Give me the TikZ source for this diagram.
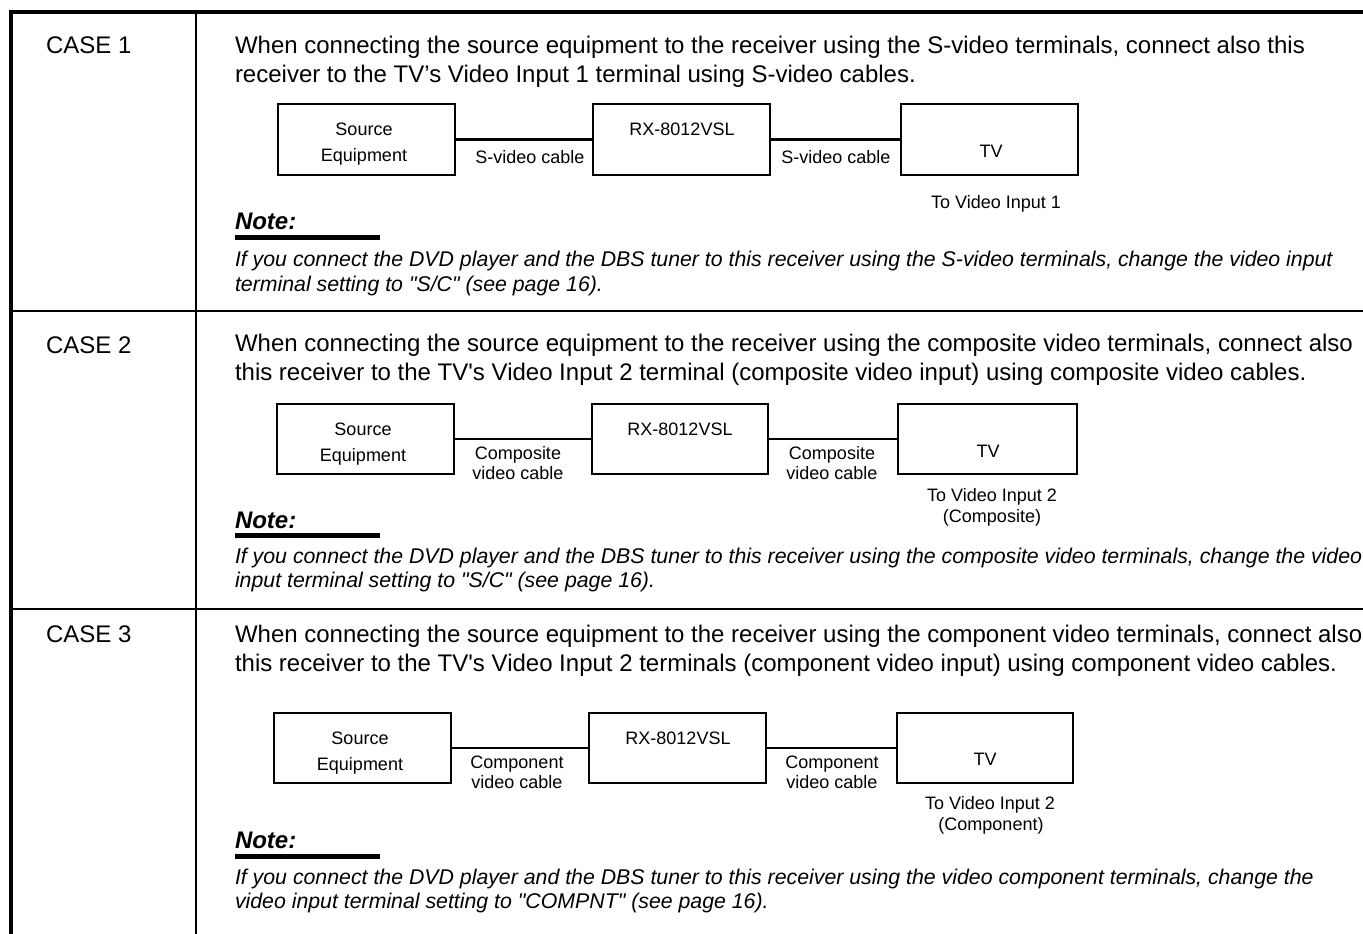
\documentclass[tikz,border=0pt]{standalone}
\usepackage{fontspec}
\newfontfamily\arialf{Liberation Sans}
\begin{document}
\begin{tikzpicture}[x=1pt,y=-1pt,
  every node/.style={inner sep=0pt, outer sep=0pt, font=\arialf},
  frame/.style={line width=3.2pt},
  grid/.style={line width=2pt},
  box/.style={draw, line width=2.6pt, minimum width=177pt, minimum height=71pt},
  cable/.style={line width=2.6pt},
  body/.style={anchor=base west, font=\arialf\fontsize{24}{29}\selectfont},
  casetx/.style={anchor=base west, font=\arialf\fontsize{24}{29}\selectfont},
  lbl/.style={anchor=base, font=\arialf\fontsize{18}{22}\selectfont},
  notehd/.style={anchor=base west, font=\arialf\bfseries\itshape\fontsize{24}{29}\selectfont},
  notetx/.style={anchor=base west, font=\arialf\itshape\fontsize{21.3}{25}\selectfont},
  bar/.style={line width=5pt}
]
\useasboundingbox (0,0) rectangle (1363,934);
% table frame
\draw[frame] (11,934) -- (11,12) -- (1363,12);
\draw[grid] (195.5,12) -- (195.5,934);
\draw[grid] (11,311) -- (1363,311);
\draw[grid] (11,609) -- (1363,609);

% ---------- CASE 1 ----------
\node[casetx] (c1) at (46,54) {CASE 1};
\node[body] (b1a) at (235,54) {When connecting the source equipment to the receiver using the S-video terminals, connect also this};
\node[body] (b1b) at (235,83) {receiver to the TV’s Video Input 1 terminal using S-video cables.};
\node[box] (s1) at (366.5,139.5) {};
\node[box] (r1) at (681.5,139.5) {};
\node[box] (t1) at (989.5,139.5) {};
\draw[cable] (s1) -- (r1);
\draw[cable] (r1) -- (t1);
\node[lbl] (s1a) at (364,135) {Source};
\node[lbl] (s1b) at (364,161) {Equipment};
\node[lbl] (r1l) at (682,135) {RX-8012VSL};
\node[lbl] (t1l) at (991,157) {TV};
\node[lbl] (k1a) at (530,163) {S-video cable};
\node[lbl] (k1b) at (836,163) {S-video cable};
\node[lbl] (v1) at (996,208) {To Video Input 1};
\node[notehd] (n1) at (235,229) {Note:};
\coordinate (u1a) at (235,237.5);
\coordinate (u1b) at (380,237.5);
\draw[bar] (u1a) -- (u1b);
\node[notetx] (m1a) at (235,266) {If you connect the DVD player and the DBS tuner to this receiver using the S-video terminals, change the video input};
\node[notetx] (m1b) at (235,291) {terminal setting to "S/C" (see page 16).};

% ---------- CASE 2 ----------
\node[casetx] (c2) at (46,353) {CASE 2};
\node[body] (b2a) at (235,351) {When connecting the source equipment to the receiver using the composite video terminals, connect also};
\node[body] (b2b) at (235,380) {this receiver to the TV's Video Input 2 terminal (composite video input) using composite video cables.};
\node[box, minimum height=70pt] (s2) at (365.5,439) {};
\node[box, minimum height=70pt, minimum width=176pt] (r2) at (680,439) {};
\node[box, minimum height=70pt, minimum width=179pt] (t2) at (987.5,439) {};
\draw[cable] (s2) -- (r2);
\draw[cable] (r2) -- (t2);
\node[lbl] (s2a) at (363,435) {Source};
\node[lbl] (s2b) at (363,461) {Equipment};
\node[lbl] (r2l) at (680,435) {RX-8012VSL};
\node[lbl] (t2l) at (988,457) {TV};
\node[lbl] (k2a) at (518,459) {Composite};
\node[lbl] (k2b) at (518,479) {video cable};
\node[lbl] (k2c) at (832,459) {Composite};
\node[lbl] (k2d) at (832,479) {video cable};
\node[lbl] (v2a) at (992,501) {To Video Input 2};
\node[lbl] (v2b) at (992,522) {(Composite)};
\node[notehd] (n2) at (235,528) {Note:};
\coordinate (u2a) at (235,535);
\coordinate (u2b) at (380,535);
\draw[bar] (u2a) -- (u2b);
\node[notetx] (m2a) at (235,563) {If you connect the DVD player and the DBS tuner to this receiver using the composite video terminals, change the video};
\node[notetx] (m2b) at (235,587) {input terminal setting to "S/C" (see page 16).};

% ---------- CASE 3 ----------
\node[casetx] (c3) at (46,642) {CASE 3};
\node[body] (b3a) at (235,642) {When connecting the source equipment to the receiver using the component video terminals, connect also};
\node[body] (b3b) at (235,671) {this receiver to the TV's Video Input 2 terminals (component video input) using component video cables.};
\node[box, minimum height=70pt] (s3) at (362.5,748) {};
\node[box, minimum height=70pt] (r3) at (677.5,748) {};
\node[box, minimum height=70pt, minimum width=176pt] (t3) at (985,748) {};
\draw[cable] (s3) -- (r3);
\draw[cable] (r3) -- (t3);
\node[lbl] (s3a) at (360,744) {Source};
\node[lbl] (s3b) at (360,770) {Equipment};
\node[lbl] (r3l) at (678,744) {RX-8012VSL};
\node[lbl] (t3l) at (985,765) {TV};
\node[lbl] (k3a) at (517,768) {Component};
\node[lbl] (k3b) at (517,788) {video cable};
\node[lbl] (k3c) at (832,768) {Component};
\node[lbl] (k3d) at (832,788) {video cable};
\node[lbl] (v3a) at (990,809) {To Video Input 2};
\node[lbl] (v3b) at (991,830) {(Component)};
\node[notehd] (n3) at (235,848) {Note:};
\coordinate (u3a) at (235,856);
\coordinate (u3b) at (380,856);
\draw[bar] (u3a) -- (u3b);
\node[notetx] (m3a) at (235,884) {If you connect the DVD player and the DBS tuner to this receiver using the video component terminals, change the};
\node[notetx] (m3b) at (235,908) {video input terminal setting to "COMPNT" (see page 16).};
\end{tikzpicture}
\end{document}
